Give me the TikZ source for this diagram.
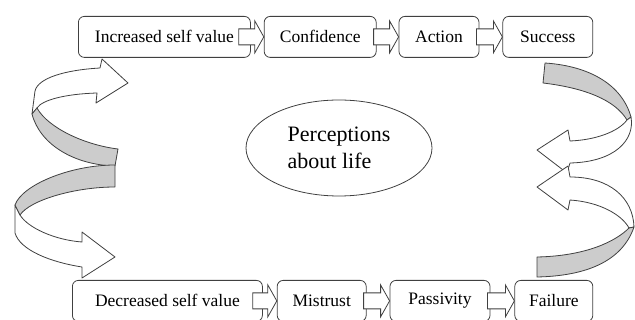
\documentclass[tikz,border=0pt]{standalone}
\usepackage{fontspec}
\setmainfont{Liberation Serif}
\usetikzlibrary{shapes.geometric, positioning, calc}
\definecolor{edgegray}{RGB}{64,64,64}
\definecolor{bandgray}{RGB}{204,204,204}

\newcommand{\flowarrow}[3][3]{%
  \draw[flow] ($(#2.east)+(-#1,8)$) -- ($(#3.west)+(-9,8)$) -- ($(#3.west)+(-9,16)$) -- (#3.west)
    -- ($(#3.west)+(-9,-16)$) -- ($(#3.west)+(-9,-8)$) -- ($(#2.east)+(-#1,-8)$) -- cycle;}

\begin{document}
\begin{tikzpicture}[x=1pt, y=-1pt,
    stage/.style={rectangle, draw=edgegray, line width=0.8pt, rounded corners=6pt, minimum height=41pt, inner sep=2pt, font=\fontsize{17.5}{21}\selectfont},
    flow/.style={draw=edgegray, fill=white, line width=0.8pt, line join=miter},
    front/.style={draw=edgegray, fill=white, line width=0.8pt, line join=round},
    back/.style={front, fill=bandgray},
    node distance=13pt
]
\useasboundingbox (0,0) rectangle (635,320);

\node[stage, minimum width=172pt, anchor=north west] (incr) at (78,16) {Increased self value};
\node[stage, minimum width=112pt, right=13pt of incr] (conf) {Confidence};
\node[stage, minimum width=80pt, right=22pt of conf] (act) {Action};
\node[stage, minimum width=90pt, right=23pt of act] (succ) {Success};

\node[stage, minimum width=190pt, anchor=north west] (decr) at (72,280) {Decreased self value};
\node[stage, minimum width=89pt, right=14pt of decr] (mist) {Mistrust};
\node[stage, minimum width=100pt, right=23pt of mist] (pass) {Passivity};
\node[stage, minimum width=78pt, right=24pt of pass] (fail) {Failure};

\node[ellipse, draw=edgegray, line width=0.8pt, minimum width=186pt, minimum height=96pt, align=left, font=\fontsize{22}{27}\selectfont] (life) at (339,148) {Perceptions\\about life};

\flowarrow[12]{incr}{conf}
\flowarrow{conf}{act}
\flowarrow{act}{succ}
\flowarrow[10]{decr}{mist}
\flowarrow{mist}{pass}
\flowarrow{pass}{fail}

% twisted loop arrows
\draw[front] (100,68) .. controls (65,70) and (38,78) .. (35,91) -- (32,114) -- (37,108) .. controls (42,100) and (65,94) .. (97,93) -- (96,103) -- (128,83) -- (102,59) -- cycle;
\draw[back] (37,108) .. controls (48,128) and (85,145) .. (118,149) -- (115,166) .. controls (75,165) and (40,145) .. (32,114) -- cycle;

\draw[front] (15,205) -- (15,233) .. controls (20,250) and (50,262) .. (82,267) -- (82,278) -- (115,257) -- (82,232) -- (82,242) .. controls (55,240) and (28,228) .. (20,215) -- cycle;
\draw[back] (115,165) .. controls (70,165) and (22,185) .. (15,205) -- (20,215) .. controls (30,200) and (75,187) .. (115,187) -- cycle;

\draw[back] (545,63) .. controls (590,66) and (622,85) .. (631,117) -- (627,120) .. controls (615,100) and (585,88) .. (543,83) -- cycle;
\draw[front] (631,117) .. controls (635,140) and (615,162) .. (570,163) -- (567,173) -- (537,150) -- (568,130) -- (570,141) .. controls (595,140) and (618,132) .. (627,120) -- cycle;

\draw[front] (570,177) .. controls (610,177) and (633,198) .. (634,227) -- (629,228) .. controls (622,215) and (600,202) .. (570,200) -- (568,210) -- (537,187) -- (568,166) -- cycle;
\draw[back] (629,228) .. controls (615,242) and (585,256) .. (537,257) -- (537,277) .. controls (585,276) and (622,262) .. (634,227) -- cycle;
\end{tikzpicture}
\end{document}
